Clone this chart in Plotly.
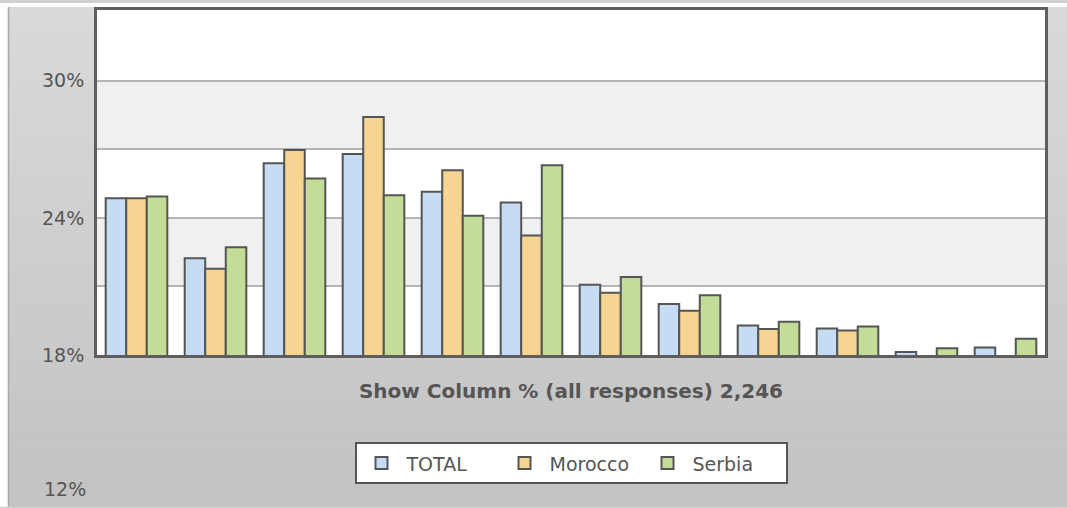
import plotly.graph_objects as go
import numpy as np

categories = ["C1", "C2", "C3", "C4", "C5", "C6", "C7", "C8", "C9", "C10", "C11", "C12"]
total = [24.86, 22.23, 26.39, 26.80, 25.14, 24.68, 21.07, 20.23, 19.29, 19.16, 18.13, 18.33]
morocco = [24.86, 21.78, 26.97, 28.42, 26.09, 23.23, 20.72, 19.94, 19.14, 19.07, 17.7, 17.7]
serbia = [24.94, 22.72, 25.73, 24.99, 24.10, 26.30, 21.41, 20.61, 19.45, 19.25, 18.29, 18.71]
series_names = ["TOTAL", "Morocco", "Serbia"]
tick_vals = [18, 21, 24, 27, 30]
tick_text = ["18%", "", "24%", "", "30%"]
band_ranges = [(21, 24), (27, 30)]
x_title = "Show Column % (all responses) 2,246"

colors = ["#c6dcf2", "#f6d592", "#c3dc97"]
W, H = 1067, 508
L, R, T, B = 97, 22, 7, 153
pw, ph = W - L - R, H - T - B

fig = go.Figure()
for name, vals, col in zip(series_names, [total, morocco, serbia], colors):
    fig.add_trace(go.Bar(
        x=categories, y=vals, name=name,
        marker=dict(color=col, line=dict(color="#555555", width=2)),
        hoverinfo="skip",
    ))

def px_x(p):
    return (p - L) / pw

def px_y(p):
    return (H - B - p) / ph

shapes = []
# outer background vertical gradient
n = 40
edges = np.linspace(px_y(0), px_y(H), n + 1)
top_c, bot_c = np.array([218, 218, 218]), np.array([195, 195, 195])
for i in range(n):
    t = i / (n - 1)
    c = (top_c * (1 - t) + bot_c * t).astype(int)
    shapes.append(dict(type="rect", xref="paper", yref="paper", x0=px_x(0), x1=px_x(W),
                       y0=edges[i + 1], y1=edges[i], line=dict(width=0),
                       fillcolor="rgb(%d,%d,%d)" % tuple(c), layer="below"))
# white page margin at the left and top of the reference screenshot
shapes.append(dict(type="rect", xref="paper", yref="paper", x0=px_x(0), x1=px_x(8),
                   y0=px_y(H), y1=px_y(0), line=dict(width=0), fillcolor="white", layer="below"))
shapes.append(dict(type="rect", xref="paper", yref="paper", x0=px_x(0), x1=px_x(W),
                   y0=px_y(4), y1=px_y(0), line=dict(width=0), fillcolor="white", layer="below"))
shapes.append(dict(type="line", xref="paper", yref="paper", x0=px_x(8.5), x1=px_x(8.5),
                   y0=px_y(H), y1=px_y(4), line=dict(width=1.5, color="#a8a8a8"), layer="below"))
shapes.append(dict(type="rect", xref="paper", yref="paper", x0=0, x1=1, y0=0, y1=1,
                   line=dict(width=0), fillcolor="white", layer="below"))
for a, b in band_ranges:
    shapes.append(dict(type="rect", xref="paper", yref="y", x0=0, x1=1, y0=a, y1=b,
                       line=dict(width=0), fillcolor="#f0f0f0", layer="below"))

fig.update_layout(
    width=W, height=H,
    margin=dict(l=L, r=R, t=T, b=B),
    paper_bgcolor="#d0d0d0", plot_bgcolor="white",
    barmode="group", bargap=0.22, bargroupgap=0,
    shapes=shapes,
    font=dict(family="DejaVu Sans, Verdana, sans-serif", color="#555555"),
    showlegend=True,
    legend=dict(orientation="h", x=0.5, xanchor="center", y=px_y(443), yanchor="top",
                bgcolor="white", bordercolor="#555555", borderwidth=2,
                font=dict(size=19, color="#555555"), itemwidth=40,
                entrywidth=88, entrywidthmode="pixels",
                tracegroupgap=0),
    annotations=[dict(text="12%", xref="paper", yref="paper", x=px_x(88), y=px_y(490),
                      xanchor="right", yanchor="middle", showarrow=False,
                      font=dict(size=19, color="#555555"))],
)
fig.update_xaxes(showticklabels=False, ticks="", showgrid=False,
                 showline=True, linecolor="#5e5e5e", linewidth=3, mirror=True,
                 title=dict(text="<b>" + x_title + "</b>", standoff=27,
                            font=dict(size=20, color="#555555")))
fig.update_yaxes(range=[18, 33.1], tickvals=tick_vals, ticktext=tick_text,
                 showgrid=True, gridcolor="#b4b4b4", gridwidth=1.5,
                 showline=True, linecolor="#5e5e5e", linewidth=3, mirror=True,
                 ticks="", ticklabelstandoff=6, zeroline=False,
                 tickfont=dict(size=19, color="#555555"))

fig.write_html("out.html")
